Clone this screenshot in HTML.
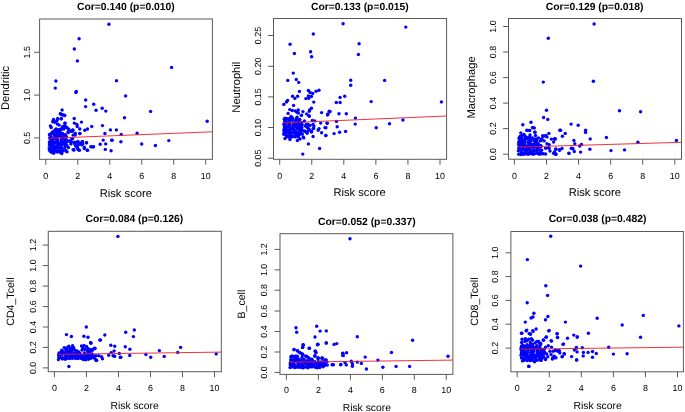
<!DOCTYPE html>
<html><head><meta charset="utf-8"><style>html,body{margin:0;padding:0;background:#fff;}svg{display:block;will-change:transform;} text{text-rendering:geometricPrecision;}</style></head>
<body><svg width="685" height="412" viewBox="0 0 685 412">
<rect width="685" height="412" fill="#fff"/>
<g><g fill="#0000ff"><circle cx="108.9" cy="24.2" r="1.7"/><circle cx="79.1" cy="38.7" r="1.7"/><circle cx="74.3" cy="49.0" r="1.7"/><circle cx="77.4" cy="60.9" r="1.7"/><circle cx="55.9" cy="81.0" r="1.7"/><circle cx="116.5" cy="80.7" r="1.7"/><circle cx="55.3" cy="88.1" r="1.7"/><circle cx="171.6" cy="67.4" r="1.7"/><circle cx="76.3" cy="91.4" r="1.7"/><circle cx="75.9" cy="92.5" r="1.7"/><circle cx="85.7" cy="100" r="1.7"/><circle cx="85.6" cy="106.6" r="1.7"/><circle cx="62.1" cy="110" r="1.7"/><circle cx="60.4" cy="113.9" r="1.7"/><circle cx="62.5" cy="114.7" r="1.7"/><circle cx="64.6" cy="115.6" r="1.7"/><circle cx="53.6" cy="119.4" r="1.7"/><circle cx="57.6" cy="119" r="1.7"/><circle cx="61.2" cy="118.8" r="1.7"/><circle cx="74.2" cy="118.5" r="1.7"/><circle cx="125.6" cy="95.9" r="1.7"/><circle cx="93.7" cy="104.3" r="1.7"/><circle cx="96.1" cy="110.3" r="1.7"/><circle cx="102.2" cy="108.2" r="1.7"/><circle cx="105.8" cy="111.1" r="1.7"/><circle cx="124.5" cy="117.7" r="1.7"/><circle cx="150.6" cy="111.4" r="1.7"/><circle cx="81.5" cy="122.1" r="1.7"/><circle cx="65" cy="123.3" r="1.7"/><circle cx="74.3" cy="123.1" r="1.7"/><circle cx="76.9" cy="124.4" r="1.7"/><circle cx="77.3" cy="126.5" r="1.7"/><circle cx="91.7" cy="126.5" r="1.7"/><circle cx="102.5" cy="125.6" r="1.7"/><circle cx="110.4" cy="129.9" r="1.7"/><circle cx="87.5" cy="129" r="1.7"/><circle cx="84.8" cy="130.3" r="1.7"/><circle cx="79.8" cy="129" r="1.7"/><circle cx="79.8" cy="133.5" r="1.7"/><circle cx="75.2" cy="133.3" r="1.7"/><circle cx="75.2" cy="135" r="1.7"/><circle cx="73" cy="129.9" r="1.7"/><circle cx="72.2" cy="131.2" r="1.7"/><circle cx="68.4" cy="129" r="1.7"/><circle cx="68" cy="132" r="1.7"/><circle cx="65.4" cy="134.6" r="1.7"/><circle cx="63.7" cy="129" r="1.7"/><circle cx="62.8" cy="126.5" r="1.7"/><circle cx="65.4" cy="126.5" r="1.7"/><circle cx="104.9" cy="133.5" r="1.7"/><circle cx="103.2" cy="140.1" r="1.7"/><circle cx="111.7" cy="140.2" r="1.7"/><circle cx="100.2" cy="144.3" r="1.7"/><circle cx="105.7" cy="143.9" r="1.7"/><circle cx="86.6" cy="142.8" r="1.7"/><circle cx="91.3" cy="146.9" r="1.7"/><circle cx="93.4" cy="146.9" r="1.7"/><circle cx="87.5" cy="150.3" r="1.7"/><circle cx="105.3" cy="149.4" r="1.7"/><circle cx="111.1" cy="150.7" r="1.7"/><circle cx="73.9" cy="149.8" r="1.7"/><circle cx="72.2" cy="138.8" r="1.7"/><circle cx="116.4" cy="129.9" r="1.7"/><circle cx="121.2" cy="134.4" r="1.7"/><circle cx="137.1" cy="133.3" r="1.7"/><circle cx="112.2" cy="140.3" r="1.7"/><circle cx="120.9" cy="141.8" r="1.7"/><circle cx="141.7" cy="144" r="1.7"/><circle cx="155.4" cy="145.5" r="1.7"/><circle cx="168.8" cy="140.6" r="1.7"/><circle cx="207.2" cy="121.3" r="1.7"/><circle cx="80" cy="133.6" r="1.7"/><circle cx="72.1" cy="138.8" r="1.7"/><circle cx="69.4" cy="141.2" r="1.7"/><circle cx="70.9" cy="143.9" r="1.7"/><circle cx="68.5" cy="147.6" r="1.7"/><circle cx="74.6" cy="142.1" r="1.7"/><circle cx="75.2" cy="144.8" r="1.7"/><circle cx="77.9" cy="141.5" r="1.7"/><circle cx="78.2" cy="143.9" r="1.7"/><circle cx="82.4" cy="141.8" r="1.7"/><circle cx="81.5" cy="144.8" r="1.7"/><circle cx="86.4" cy="142.7" r="1.7"/><circle cx="84.3" cy="147.3" r="1.7"/><circle cx="84.3" cy="148.5" r="1.7"/><circle cx="77.6" cy="148.2" r="1.7"/><circle cx="79.4" cy="150.3" r="1.7"/><circle cx="78.2" cy="149.7" r="1.7"/><circle cx="73.8" cy="150.1" r="1.7"/><circle cx="87.3" cy="150.3" r="1.7"/><circle cx="90.9" cy="146.6" r="1.7"/><circle cx="93.4" cy="146.6" r="1.7"/><circle cx="67" cy="151.8" r="1.7"/><circle cx="61.8" cy="153.6" r="1.7"/><circle cx="60.4" cy="113.8" r="1.7"/><circle cx="62.2" cy="114.7" r="1.7"/><circle cx="64.6" cy="115.3" r="1.7"/><circle cx="61.3" cy="118.7" r="1.7"/><circle cx="57.7" cy="118.7" r="1.7"/><circle cx="53.4" cy="120.2" r="1.7"/><circle cx="52.8" cy="121.7" r="1.7"/><circle cx="54.9" cy="122.3" r="1.7"/><circle cx="56.8" cy="121.1" r="1.7"/><circle cx="57.4" cy="124.1" r="1.7"/><circle cx="59.2" cy="125.1" r="1.7"/><circle cx="64.9" cy="123.2" r="1.7"/><circle cx="50.4" cy="126" r="1.7"/><circle cx="51.3" cy="127.5" r="1.7"/><circle cx="56.1" cy="129" r="1.7"/><circle cx="64.6" cy="126.6" r="1.7"/><circle cx="67.1" cy="127.8" r="1.7"/><circle cx="68.9" cy="129.6" r="1.7"/><circle cx="61.6" cy="128.4" r="1.7"/><circle cx="64" cy="126.9" r="1.7"/><circle cx="65.9" cy="127.2" r="1.7"/><circle cx="54.9" cy="130.2" r="1.7"/><circle cx="58" cy="129.6" r="1.7"/><circle cx="59.8" cy="129.6" r="1.7"/><circle cx="49.5" cy="134.5" r="1.7"/><circle cx="52.5" cy="132" r="1.7"/><circle cx="54.3" cy="131.4" r="1.7"/><circle cx="68.3" cy="132.6" r="1.7"/><circle cx="70.7" cy="131.4" r="1.7"/><circle cx="72.5" cy="130.2" r="1.7"/><circle cx="73.1" cy="135.1" r="1.7"/><circle cx="70.7" cy="141.1" r="1.7"/><circle cx="72.5" cy="138.6" r="1.7"/><circle cx="73.1" cy="149.6" r="1.7"/><circle cx="53.7" cy="153.3" r="1.7"/><circle cx="61.6" cy="152.4" r="1.7"/><circle cx="66" cy="151" r="1.7"/><circle cx="50.5" cy="151.5" r="1.7"/><circle cx="69.6" cy="140.9" r="1.7"/><circle cx="71.3" cy="142.2" r="1.7"/><circle cx="74.7" cy="143.5" r="1.7"/><circle cx="77.7" cy="142.2" r="1.7"/><circle cx="80.3" cy="143" r="1.7"/><circle cx="82.4" cy="141.8" r="1.7"/><circle cx="82.8" cy="143.9" r="1.7"/><circle cx="78.1" cy="145.2" r="1.7"/><circle cx="76" cy="146.4" r="1.7"/></g><g fill="#0000ff"><circle cx="53.1" cy="132.8" r="1.7"/><circle cx="56.8" cy="132.5" r="1.7"/><circle cx="57.8" cy="132.6" r="1.7"/><circle cx="59.7" cy="132.3" r="1.7"/><circle cx="51.4" cy="134.1" r="1.7"/><circle cx="54.4" cy="135.0" r="1.7"/><circle cx="56.3" cy="134.4" r="1.7"/><circle cx="59.1" cy="135.5" r="1.7"/><circle cx="59.9" cy="134.6" r="1.7"/><circle cx="63.1" cy="135.2" r="1.7"/><circle cx="50.0" cy="137.4" r="1.7"/><circle cx="51.4" cy="137.2" r="1.7"/><circle cx="54.5" cy="137.7" r="1.7"/><circle cx="56.1" cy="137.2" r="1.7"/><circle cx="57.6" cy="136.7" r="1.7"/><circle cx="61.0" cy="137.0" r="1.7"/><circle cx="62.2" cy="137.2" r="1.7"/><circle cx="65.2" cy="137.4" r="1.7"/><circle cx="51.7" cy="139.7" r="1.7"/><circle cx="53.9" cy="139.1" r="1.7"/><circle cx="56.1" cy="138.5" r="1.7"/><circle cx="57.6" cy="139.6" r="1.7"/><circle cx="61.3" cy="139.4" r="1.7"/><circle cx="62.5" cy="138.8" r="1.7"/><circle cx="64.9" cy="140.1" r="1.7"/><circle cx="49.9" cy="141.6" r="1.7"/><circle cx="52.3" cy="141.1" r="1.7"/><circle cx="53.9" cy="142.2" r="1.7"/><circle cx="56.2" cy="141.4" r="1.7"/><circle cx="57.9" cy="141.6" r="1.7"/><circle cx="61.2" cy="140.7" r="1.7"/><circle cx="63.2" cy="142.0" r="1.7"/><circle cx="65.5" cy="141.9" r="1.7"/><circle cx="50.0" cy="143.7" r="1.7"/><circle cx="51.8" cy="143.6" r="1.7"/><circle cx="53.2" cy="144.3" r="1.7"/><circle cx="56.2" cy="143.2" r="1.7"/><circle cx="58.3" cy="143.7" r="1.7"/><circle cx="60.3" cy="143.5" r="1.7"/><circle cx="62.8" cy="143.9" r="1.7"/><circle cx="65.1" cy="143.6" r="1.7"/><circle cx="51.2" cy="146.0" r="1.7"/><circle cx="54.5" cy="146.4" r="1.7"/><circle cx="56.6" cy="146.4" r="1.7"/><circle cx="57.9" cy="146.4" r="1.7"/><circle cx="60.8" cy="145.2" r="1.7"/><circle cx="61.9" cy="145.1" r="1.7"/><circle cx="65.3" cy="145.5" r="1.7"/><circle cx="51.5" cy="147.4" r="1.7"/><circle cx="53.4" cy="148.1" r="1.7"/><circle cx="55.6" cy="147.7" r="1.7"/><circle cx="58.6" cy="148.0" r="1.7"/><circle cx="60.2" cy="148.1" r="1.7"/><circle cx="61.9" cy="147.9" r="1.7"/><circle cx="64.8" cy="147.6" r="1.7"/><circle cx="51.7" cy="149.8" r="1.7"/><circle cx="54.1" cy="150.8" r="1.7"/><circle cx="55.3" cy="149.5" r="1.7"/><circle cx="57.7" cy="150.7" r="1.7"/><circle cx="60.0" cy="150.6" r="1.7"/><circle cx="63.0" cy="150.4" r="1.7"/><circle cx="49.8" cy="135.0" r="1.7"/><circle cx="51.0" cy="133.6" r="1.7"/><circle cx="52.9" cy="132.1" r="1.7"/><circle cx="56.8" cy="131.1" r="1.7"/><circle cx="60.6" cy="130.3" r="1.7"/><circle cx="62.5" cy="133.4" r="1.7"/><circle cx="64.8" cy="134.9" r="1.7"/><circle cx="66.3" cy="136.4" r="1.7"/><circle cx="66.7" cy="139.9" r="1.7"/><circle cx="66.3" cy="142.5" r="1.7"/><circle cx="66.9" cy="145.5" r="1.7"/><circle cx="65.8" cy="150.5" r="1.7"/><circle cx="62.1" cy="151.2" r="1.7"/><circle cx="59.9" cy="152.2" r="1.7"/><circle cx="57.2" cy="152.0" r="1.7"/><circle cx="54.4" cy="151.8" r="1.7"/><circle cx="51.7" cy="152.2" r="1.7"/><circle cx="49.5" cy="150.2" r="1.7"/><circle cx="49.2" cy="147.9" r="1.7"/><circle cx="49.4" cy="145.0" r="1.7"/><circle cx="49.4" cy="142.4" r="1.7"/><circle cx="50.0" cy="138.5" r="1.7"/></g><line x1="48.9" y1="138.3" x2="212.4" y2="131.8" stroke="#ee1c24" stroke-width="1" stroke-opacity="0.9"/><rect x="39.6" y="19.0" width="172.80" height="140.30" fill="none" stroke="#5a5a5a" stroke-width="1"/><text x="45.80" y="178.8" font-family="Liberation Sans" font-size="8.9" text-anchor="middle">0</text><text x="77.78" y="178.8" font-family="Liberation Sans" font-size="8.9" text-anchor="middle">2</text><text x="109.76" y="178.8" font-family="Liberation Sans" font-size="8.9" text-anchor="middle">4</text><text x="141.74" y="178.8" font-family="Liberation Sans" font-size="8.9" text-anchor="middle">6</text><text x="173.72" y="178.8" font-family="Liberation Sans" font-size="8.9" text-anchor="middle">8</text><text x="205.70" y="178.8" font-family="Liberation Sans" font-size="8.9" text-anchor="middle">10</text><text transform="translate(30.4,52.3) rotate(-90)" font-family="Liberation Sans" font-size="8.9" text-anchor="middle">1.5</text><text transform="translate(30.4,95.1) rotate(-90)" font-family="Liberation Sans" font-size="8.9" text-anchor="middle">1.0</text><text transform="translate(30.4,137.9) rotate(-90)" font-family="Liberation Sans" font-size="8.9" text-anchor="middle">0.5</text><path d="M45.80,159.3v5.4 M77.78,159.3v5.4 M109.76,159.3v5.4 M141.74,159.3v5.4 M173.72,159.3v5.4 M205.70,159.3v5.4 M39.6,52.3h-5.4 M39.6,95.1h-5.4 M39.6,137.9h-5.4" stroke="#5a5a5a" stroke-width="1" fill="none"/><text x="125.9" y="9.8" font-family="Liberation Sans" font-size="10.35" font-weight="bold" text-anchor="middle">Cor=0.140 (p=0.010)</text><text x="125.8" y="196.7" font-family="Liberation Sans" font-size="11.2" text-anchor="middle">Risk score</text><text transform="translate(9.3,88.0) rotate(-90)" font-family="Liberation Sans" font-size="11.2" text-anchor="middle">Dendritic</text></g>
<g><g fill="#0000ff"><circle cx="343.1" cy="23.7" r="1.7"/><circle cx="313.3" cy="34" r="1.7"/><circle cx="290.1" cy="44.2" r="1.7"/><circle cx="294.4" cy="53.5" r="1.7"/><circle cx="310.6" cy="51.8" r="1.7"/><circle cx="311.6" cy="56.8" r="1.7"/><circle cx="359.1" cy="43.8" r="1.7"/><circle cx="358.4" cy="54.5" r="1.7"/><circle cx="293.3" cy="73.1" r="1.7"/><circle cx="287.8" cy="80.4" r="1.7"/><circle cx="296.3" cy="79.5" r="1.7"/><circle cx="298.7" cy="82.4" r="1.7"/><circle cx="350.7" cy="80.2" r="1.7"/><circle cx="350.7" cy="85.2" r="1.7"/><circle cx="405.8" cy="27.1" r="1.7"/><circle cx="384.6" cy="80.4" r="1.7"/><circle cx="299.4" cy="91.4" r="1.7"/><circle cx="308.4" cy="90.5" r="1.7"/><circle cx="310.1" cy="92.5" r="1.7"/><circle cx="312.7" cy="93.5" r="1.7"/><circle cx="316.1" cy="91.2" r="1.7"/><circle cx="319" cy="90.3" r="1.7"/><circle cx="292.6" cy="96.3" r="1.7"/><circle cx="294.9" cy="98.4" r="1.7"/><circle cx="297.6" cy="96.3" r="1.7"/><circle cx="308.4" cy="96" r="1.7"/><circle cx="311.4" cy="96.5" r="1.7"/><circle cx="305.9" cy="98.6" r="1.7"/><circle cx="308.7" cy="98.2" r="1.7"/><circle cx="313.8" cy="102.1" r="1.7"/><circle cx="287.6" cy="100.5" r="1.7"/><circle cx="286.4" cy="102" r="1.7"/><circle cx="283.8" cy="104.4" r="1.7"/><circle cx="293.6" cy="105.4" r="1.7"/><circle cx="311.4" cy="108.3" r="1.7"/><circle cx="309.7" cy="110" r="1.7"/><circle cx="309.3" cy="111.3" r="1.7"/><circle cx="321.6" cy="112.6" r="1.7"/><circle cx="329.2" cy="111.3" r="1.7"/><circle cx="328" cy="114.1" r="1.7"/><circle cx="302.9" cy="111.6" r="1.7"/><circle cx="306.7" cy="113.9" r="1.7"/><circle cx="309.3" cy="116.2" r="1.7"/><circle cx="301.6" cy="115.1" r="1.7"/><circle cx="288.1" cy="113.4" r="1.7"/><circle cx="289.8" cy="109.6" r="1.7"/><circle cx="292.3" cy="110.5" r="1.7"/><circle cx="295.3" cy="110.9" r="1.7"/><circle cx="298.3" cy="110" r="1.7"/><circle cx="297" cy="112.2" r="1.7"/><circle cx="298.3" cy="113" r="1.7"/><circle cx="285.1" cy="118.1" r="1.7"/><circle cx="291" cy="116.4" r="1.7"/><circle cx="297" cy="117.3" r="1.7"/><circle cx="308.9" cy="115.8" r="1.7"/><circle cx="301.2" cy="115.4" r="1.7"/><circle cx="327.5" cy="115" r="1.7"/><circle cx="312.3" cy="120.5" r="1.7"/><circle cx="314.8" cy="120.9" r="1.7"/><circle cx="320.7" cy="123.1" r="1.7"/><circle cx="327.1" cy="123.1" r="1.7"/><circle cx="314" cy="126" r="1.7"/><circle cx="313.5" cy="128.6" r="1.7"/><circle cx="308" cy="124.3" r="1.7"/><circle cx="308" cy="127.7" r="1.7"/><circle cx="319" cy="128.6" r="1.7"/><circle cx="318.2" cy="130.3" r="1.7"/><circle cx="325" cy="127.6" r="1.7"/><circle cx="321.6" cy="132.7" r="1.7"/><circle cx="325.8" cy="135.4" r="1.7"/><circle cx="308" cy="131.1" r="1.7"/><circle cx="311.4" cy="132" r="1.7"/><circle cx="313.1" cy="136.5" r="1.7"/><circle cx="303.8" cy="137.9" r="1.7"/><circle cx="297.4" cy="140.5" r="1.7"/><circle cx="308.4" cy="143.9" r="1.7"/><circle cx="319.6" cy="148.5" r="1.7"/><circle cx="302.8" cy="154.1" r="1.7"/><circle cx="340.1" cy="97.4" r="1.7"/><circle cx="344.7" cy="96.3" r="1.7"/><circle cx="336.3" cy="102.5" r="1.7"/><circle cx="340.1" cy="102.5" r="1.7"/><circle cx="371.2" cy="101.6" r="1.7"/><circle cx="441.4" cy="101.9" r="1.7"/><circle cx="330.1" cy="111.6" r="1.7"/><circle cx="327.7" cy="114.1" r="1.7"/><circle cx="339" cy="113.8" r="1.7"/><circle cx="346.3" cy="113.8" r="1.7"/><circle cx="355.4" cy="118.1" r="1.7"/><circle cx="327.2" cy="123.2" r="1.7"/><circle cx="336.5" cy="121.4" r="1.7"/><circle cx="337.2" cy="126.7" r="1.7"/><circle cx="355.2" cy="124.1" r="1.7"/><circle cx="325.9" cy="127.8" r="1.7"/><circle cx="334.1" cy="133.6" r="1.7"/><circle cx="339.6" cy="132.3" r="1.7"/><circle cx="345.6" cy="131.4" r="1.7"/><circle cx="325.9" cy="135.6" r="1.7"/><circle cx="376.2" cy="127.8" r="1.7"/><circle cx="389.5" cy="123.8" r="1.7"/><circle cx="402.9" cy="120" r="1.7"/><circle cx="304.5" cy="121" r="1.7"/><circle cx="305.5" cy="126" r="1.7"/><circle cx="304" cy="131" r="1.7"/><circle cx="300" cy="139" r="1.7"/><circle cx="290" cy="139.5" r="1.7"/><circle cx="285" cy="138.5" r="1.7"/><circle cx="306.2" cy="124.4" r="1.7"/><circle cx="307.1" cy="127.3" r="1.7"/><circle cx="309.1" cy="129.3" r="1.7"/><circle cx="311.5" cy="131.2" r="1.7"/><circle cx="310" cy="125.4" r="1.7"/><circle cx="313" cy="124.4" r="1.7"/><circle cx="313.4" cy="128.3" r="1.7"/><circle cx="305.2" cy="131.2" r="1.7"/><circle cx="307.1" cy="133.2" r="1.7"/><circle cx="302.3" cy="134.1" r="1.7"/><circle cx="303.2" cy="137" r="1.7"/><circle cx="301.3" cy="129.3" r="1.7"/></g><g fill="#0000ff"><circle cx="290.8" cy="118.7" r="1.7"/><circle cx="284.6" cy="119.6" r="1.7"/><circle cx="285.4" cy="120.5" r="1.7"/><circle cx="289.1" cy="120.2" r="1.7"/><circle cx="290.1" cy="120.3" r="1.7"/><circle cx="292.0" cy="120.0" r="1.7"/><circle cx="294.9" cy="120.4" r="1.7"/><circle cx="296.8" cy="120.0" r="1.7"/><circle cx="299.0" cy="120.3" r="1.7"/><circle cx="284.5" cy="122.7" r="1.7"/><circle cx="286.4" cy="122.1" r="1.7"/><circle cx="289.2" cy="123.2" r="1.7"/><circle cx="290.0" cy="122.3" r="1.7"/><circle cx="293.2" cy="122.9" r="1.7"/><circle cx="295.7" cy="122.5" r="1.7"/><circle cx="297.7" cy="122.9" r="1.7"/><circle cx="299.1" cy="122.7" r="1.7"/><circle cx="285.5" cy="124.4" r="1.7"/><circle cx="288.9" cy="124.7" r="1.7"/><circle cx="290.1" cy="124.9" r="1.7"/><circle cx="293.1" cy="125.1" r="1.7"/><circle cx="294.8" cy="124.7" r="1.7"/><circle cx="297.2" cy="125.2" r="1.7"/><circle cx="299.4" cy="124.6" r="1.7"/><circle cx="301.6" cy="124.0" r="1.7"/><circle cx="287.0" cy="127.1" r="1.7"/><circle cx="288.2" cy="126.5" r="1.7"/><circle cx="290.6" cy="127.8" r="1.7"/><circle cx="293.2" cy="127.1" r="1.7"/><circle cx="295.6" cy="126.6" r="1.7"/><circle cx="297.2" cy="127.7" r="1.7"/><circle cx="299.5" cy="126.9" r="1.7"/><circle cx="301.2" cy="127.1" r="1.7"/><circle cx="284.7" cy="128.4" r="1.7"/><circle cx="286.7" cy="129.7" r="1.7"/><circle cx="289.0" cy="129.6" r="1.7"/><circle cx="291.1" cy="129.2" r="1.7"/><circle cx="292.9" cy="129.1" r="1.7"/><circle cx="294.3" cy="129.8" r="1.7"/><circle cx="297.3" cy="128.7" r="1.7"/><circle cx="299.4" cy="129.2" r="1.7"/><circle cx="301.4" cy="129.0" r="1.7"/><circle cx="286.4" cy="131.3" r="1.7"/><circle cx="287.6" cy="131.0" r="1.7"/><circle cx="290.1" cy="131.5" r="1.7"/><circle cx="293.4" cy="131.9" r="1.7"/><circle cx="295.5" cy="131.9" r="1.7"/><circle cx="296.8" cy="131.9" r="1.7"/><circle cx="299.7" cy="130.7" r="1.7"/><circle cx="300.8" cy="130.6" r="1.7"/><circle cx="284.4" cy="133.2" r="1.7"/><circle cx="285.6" cy="133.8" r="1.7"/><circle cx="288.2" cy="132.9" r="1.7"/><circle cx="290.1" cy="133.6" r="1.7"/><circle cx="292.3" cy="133.2" r="1.7"/><circle cx="295.3" cy="133.5" r="1.7"/><circle cx="296.9" cy="133.6" r="1.7"/><circle cx="298.6" cy="133.4" r="1.7"/><circle cx="286.2" cy="135.3" r="1.7"/><circle cx="288.6" cy="136.3" r="1.7"/><circle cx="289.8" cy="135.0" r="1.7"/><circle cx="292.2" cy="136.2" r="1.7"/><circle cx="294.5" cy="136.1" r="1.7"/><circle cx="297.5" cy="135.9" r="1.7"/><circle cx="284.2" cy="119.1" r="1.7"/><circle cx="287.1" cy="118.7" r="1.7"/><circle cx="289.8" cy="118.3" r="1.7"/><circle cx="292.6" cy="118.0" r="1.7"/><circle cx="296.5" cy="118.6" r="1.7"/><circle cx="299.8" cy="119.4" r="1.7"/><circle cx="301.8" cy="122.4" r="1.7"/><circle cx="302.2" cy="124.9" r="1.7"/><circle cx="301.8" cy="127.5" r="1.7"/><circle cx="301.9" cy="130.0" r="1.7"/><circle cx="301.3" cy="133.5" r="1.7"/><circle cx="299.6" cy="134.4" r="1.7"/><circle cx="298.4" cy="137.0" r="1.7"/><circle cx="295.2" cy="136.9" r="1.7"/><circle cx="291.9" cy="137.0" r="1.7"/><circle cx="289.2" cy="137.3" r="1.7"/><circle cx="286.9" cy="136.7" r="1.7"/><circle cx="283.9" cy="134.2" r="1.7"/><circle cx="284.0" cy="131.7" r="1.7"/><circle cx="283.9" cy="129.7" r="1.7"/><circle cx="284.4" cy="126.5" r="1.7"/><circle cx="283.9" cy="124.2" r="1.7"/><circle cx="284.8" cy="121.9" r="1.7"/></g><line x1="283.3" y1="122.9" x2="446.6" y2="116.0" stroke="#ee1c24" stroke-width="1" stroke-opacity="0.9"/><rect x="273.5" y="18.5" width="173.10" height="140.80" fill="none" stroke="#5a5a5a" stroke-width="1"/><text x="279.70" y="178.5" font-family="Liberation Sans" font-size="8.9" text-anchor="middle">0</text><text x="311.76" y="178.5" font-family="Liberation Sans" font-size="8.9" text-anchor="middle">2</text><text x="343.82" y="178.5" font-family="Liberation Sans" font-size="8.9" text-anchor="middle">4</text><text x="375.88" y="178.5" font-family="Liberation Sans" font-size="8.9" text-anchor="middle">6</text><text x="407.94" y="178.5" font-family="Liberation Sans" font-size="8.9" text-anchor="middle">8</text><text x="440.00" y="178.5" font-family="Liberation Sans" font-size="8.9" text-anchor="middle">10</text><text transform="translate(260.8,35.5) rotate(-90)" font-family="Liberation Sans" font-size="8.9" text-anchor="middle">0.25</text><text transform="translate(260.8,66.3) rotate(-90)" font-family="Liberation Sans" font-size="8.9" text-anchor="middle">0.20</text><text transform="translate(260.8,96.9) rotate(-90)" font-family="Liberation Sans" font-size="8.9" text-anchor="middle">0.15</text><text transform="translate(260.8,127.5) rotate(-90)" font-family="Liberation Sans" font-size="8.9" text-anchor="middle">0.10</text><text transform="translate(260.8,158.2) rotate(-90)" font-family="Liberation Sans" font-size="8.9" text-anchor="middle">0.05</text><path d="M279.70,159.3v5.4 M311.76,159.3v5.4 M343.82,159.3v5.4 M375.88,159.3v5.4 M407.94,159.3v5.4 M440.00,159.3v5.4 M273.5,35.5h-5.4 M273.5,66.3h-5.4 M273.5,96.9h-5.4 M273.5,127.5h-5.4 M273.5,158.2h-5.4" stroke="#5a5a5a" stroke-width="1" fill="none"/><text x="359.9" y="9.7" font-family="Liberation Sans" font-size="10.35" font-weight="bold" text-anchor="middle">Cor=0.133 (p=0.015)</text><text x="359.5" y="195.7" font-family="Liberation Sans" font-size="11.2" text-anchor="middle">Risk score</text><text transform="translate(239.9,87.2) rotate(-90)" font-family="Liberation Sans" font-size="11.2" text-anchor="middle">Neutrophil</text></g>
<g><g fill="#0000ff"><circle cx="594.1" cy="24" r="1.7"/><circle cx="548.3" cy="38.2" r="1.7"/><circle cx="543.3" cy="82.1" r="1.7"/><circle cx="593.4" cy="81.2" r="1.7"/><circle cx="546.5" cy="110.2" r="1.7"/><circle cx="543.6" cy="117.5" r="1.7"/><circle cx="547.8" cy="119.4" r="1.7"/><circle cx="531" cy="122.3" r="1.7"/><circle cx="522.8" cy="124.8" r="1.7"/><circle cx="532.5" cy="127.6" r="1.7"/><circle cx="534.3" cy="127.9" r="1.7"/><circle cx="526.7" cy="130.3" r="1.7"/><circle cx="529.6" cy="130.5" r="1.7"/><circle cx="535" cy="132.3" r="1.7"/><circle cx="520.8" cy="133" r="1.7"/><circle cx="548.9" cy="133.4" r="1.7"/><circle cx="559.8" cy="130.3" r="1.7"/><circle cx="522.3" cy="135.5" r="1.7"/><circle cx="527.7" cy="130.4" r="1.7"/><circle cx="529.6" cy="130.4" r="1.7"/><circle cx="542.7" cy="135.8" r="1.7"/><circle cx="545.6" cy="135.8" r="1.7"/><circle cx="547" cy="136.9" r="1.7"/><circle cx="551.4" cy="139.1" r="1.7"/><circle cx="554.7" cy="138.7" r="1.7"/><circle cx="553.6" cy="142" r="1.7"/><circle cx="542" cy="139.5" r="1.7"/><circle cx="544.1" cy="140.9" r="1.7"/><circle cx="540.5" cy="140.9" r="1.7"/><circle cx="547" cy="143.8" r="1.7"/><circle cx="549.2" cy="144.6" r="1.7"/><circle cx="545.6" cy="148.2" r="1.7"/><circle cx="548.5" cy="147.8" r="1.7"/><circle cx="555.8" cy="148.9" r="1.7"/><circle cx="559.4" cy="149.7" r="1.7"/><circle cx="550" cy="151.1" r="1.7"/><circle cx="553.6" cy="153.3" r="1.7"/><circle cx="555.8" cy="154" r="1.7"/><circle cx="543.4" cy="153.7" r="1.7"/><circle cx="545.6" cy="154" r="1.7"/><circle cx="619.5" cy="110.8" r="1.7"/><circle cx="640.6" cy="111.7" r="1.7"/><circle cx="571.1" cy="124.1" r="1.7"/><circle cx="578.2" cy="125.2" r="1.7"/><circle cx="560.6" cy="130.2" r="1.7"/><circle cx="565.2" cy="133.4" r="1.7"/><circle cx="562.4" cy="136.3" r="1.7"/><circle cx="585.6" cy="130.2" r="1.7"/><circle cx="585.6" cy="132.4" r="1.7"/><circle cx="555.4" cy="138.9" r="1.7"/><circle cx="573.9" cy="140.4" r="1.7"/><circle cx="574.8" cy="143.8" r="1.7"/><circle cx="590.2" cy="138.9" r="1.7"/><circle cx="606.4" cy="137.5" r="1.7"/><circle cx="637.9" cy="142.3" r="1.7"/><circle cx="676.4" cy="140.4" r="1.7"/><circle cx="581.5" cy="144.5" r="1.7"/><circle cx="579.7" cy="146" r="1.7"/><circle cx="555.9" cy="149.3" r="1.7"/><circle cx="559.6" cy="150.2" r="1.7"/><circle cx="562" cy="148.4" r="1.7"/><circle cx="571.3" cy="148.4" r="1.7"/><circle cx="573" cy="148.8" r="1.7"/><circle cx="574.3" cy="151.5" r="1.7"/><circle cx="580.6" cy="152.1" r="1.7"/><circle cx="568.9" cy="153.4" r="1.7"/><circle cx="555.9" cy="154.3" r="1.7"/><circle cx="589.9" cy="149.3" r="1.7"/><circle cx="611" cy="150.6" r="1.7"/><circle cx="624.5" cy="149.9" r="1.7"/><circle cx="533" cy="127.8" r="1.7"/><circle cx="534.7" cy="132.1" r="1.7"/><circle cx="545.9" cy="135.5" r="1.7"/><circle cx="543.3" cy="136.4" r="1.7"/><circle cx="541.6" cy="139" r="1.7"/><circle cx="554.5" cy="139" r="1.7"/><circle cx="549.3" cy="148.4" r="1.7"/><circle cx="554.5" cy="151.9" r="1.7"/><circle cx="555.4" cy="154.1" r="1.7"/><circle cx="569" cy="153.1" r="1.7"/><circle cx="571.7" cy="148.1" r="1.7"/><circle cx="520" cy="136.5" r="1.7"/><circle cx="524" cy="134.5" r="1.7"/><circle cx="530" cy="135" r="1.7"/><circle cx="535.5" cy="135.5" r="1.7"/><circle cx="538.5" cy="138" r="1.7"/></g><g fill="#0000ff"><circle cx="525.5" cy="137.5" r="1.7"/><circle cx="519.4" cy="139.0" r="1.7"/><circle cx="520.4" cy="139.1" r="1.7"/><circle cx="522.3" cy="138.8" r="1.7"/><circle cx="525.2" cy="139.2" r="1.7"/><circle cx="527.1" cy="138.8" r="1.7"/><circle cx="529.3" cy="139.1" r="1.7"/><circle cx="531.6" cy="138.4" r="1.7"/><circle cx="534.6" cy="139.3" r="1.7"/><circle cx="519.1" cy="141.7" r="1.7"/><circle cx="521.6" cy="141.3" r="1.7"/><circle cx="523.6" cy="141.7" r="1.7"/><circle cx="525.0" cy="141.5" r="1.7"/><circle cx="528.1" cy="142.0" r="1.7"/><circle cx="529.7" cy="141.5" r="1.7"/><circle cx="531.2" cy="141.0" r="1.7"/><circle cx="534.6" cy="141.3" r="1.7"/><circle cx="535.8" cy="141.5" r="1.7"/><circle cx="518.7" cy="144.0" r="1.7"/><circle cx="520.9" cy="143.4" r="1.7"/><circle cx="523.1" cy="142.8" r="1.7"/><circle cx="524.6" cy="143.9" r="1.7"/><circle cx="528.3" cy="143.7" r="1.7"/><circle cx="529.5" cy="143.1" r="1.7"/><circle cx="531.9" cy="144.4" r="1.7"/><circle cx="534.5" cy="143.7" r="1.7"/><circle cx="536.9" cy="143.2" r="1.7"/><circle cx="538.5" cy="144.3" r="1.7"/><circle cx="521.6" cy="145.0" r="1.7"/><circle cx="523.6" cy="146.3" r="1.7"/><circle cx="525.9" cy="146.2" r="1.7"/><circle cx="528.0" cy="145.8" r="1.7"/><circle cx="529.8" cy="145.7" r="1.7"/><circle cx="531.2" cy="146.4" r="1.7"/><circle cx="534.2" cy="145.3" r="1.7"/><circle cx="536.3" cy="145.8" r="1.7"/><circle cx="538.3" cy="145.6" r="1.7"/><circle cx="540.8" cy="146.0" r="1.7"/><circle cx="518.9" cy="147.9" r="1.7"/><circle cx="520.1" cy="147.6" r="1.7"/><circle cx="522.6" cy="148.1" r="1.7"/><circle cx="525.9" cy="148.5" r="1.7"/><circle cx="528.0" cy="148.5" r="1.7"/><circle cx="529.3" cy="148.5" r="1.7"/><circle cx="532.2" cy="147.3" r="1.7"/><circle cx="533.3" cy="147.2" r="1.7"/><circle cx="536.7" cy="147.6" r="1.7"/><circle cx="537.9" cy="148.2" r="1.7"/><circle cx="540.5" cy="147.3" r="1.7"/><circle cx="520.4" cy="149.8" r="1.7"/><circle cx="523.4" cy="150.1" r="1.7"/><circle cx="525.0" cy="150.2" r="1.7"/><circle cx="526.7" cy="150.0" r="1.7"/><circle cx="529.6" cy="149.7" r="1.7"/><circle cx="531.3" cy="150.8" r="1.7"/><circle cx="534.1" cy="149.7" r="1.7"/><circle cx="536.5" cy="150.7" r="1.7"/><circle cx="537.7" cy="149.4" r="1.7"/><circle cx="540.1" cy="150.6" r="1.7"/><circle cx="521.2" cy="152.5" r="1.7"/><circle cx="522.7" cy="153.2" r="1.7"/><circle cx="525.8" cy="152.4" r="1.7"/><circle cx="527.1" cy="152.6" r="1.7"/><circle cx="529.5" cy="152.5" r="1.7"/><circle cx="531.6" cy="152.6" r="1.7"/><circle cx="533.4" cy="152.1" r="1.7"/><circle cx="537.0" cy="153.0" r="1.7"/><circle cx="538.2" cy="153.0" r="1.7"/><circle cx="540.4" cy="153.1" r="1.7"/><circle cx="519.0" cy="137.9" r="1.7"/><circle cx="521.7" cy="137.0" r="1.7"/><circle cx="525.4" cy="136.5" r="1.7"/><circle cx="527.7" cy="137.6" r="1.7"/><circle cx="529.7" cy="137.0" r="1.7"/><circle cx="532.4" cy="138.0" r="1.7"/><circle cx="536.2" cy="139.0" r="1.7"/><circle cx="536.9" cy="140.8" r="1.7"/><circle cx="537.7" cy="143.2" r="1.7"/><circle cx="540.9" cy="145.7" r="1.7"/><circle cx="541.6" cy="150.2" r="1.7"/><circle cx="541.8" cy="153.8" r="1.7"/><circle cx="539.4" cy="154.2" r="1.7"/><circle cx="537.6" cy="153.4" r="1.7"/><circle cx="534.5" cy="153.7" r="1.7"/><circle cx="532.9" cy="154.2" r="1.7"/><circle cx="529.8" cy="153.7" r="1.7"/><circle cx="528.0" cy="154.3" r="1.7"/><circle cx="526.0" cy="153.8" r="1.7"/><circle cx="523.8" cy="154.2" r="1.7"/><circle cx="521.2" cy="154.5" r="1.7"/><circle cx="518.7" cy="154.2" r="1.7"/><circle cx="518.4" cy="150.7" r="1.7"/><circle cx="519.1" cy="147.7" r="1.7"/><circle cx="519.0" cy="145.1" r="1.7"/><circle cx="519.0" cy="141.9" r="1.7"/></g><line x1="518.3" y1="147.1" x2="681.5" y2="142.3" stroke="#ee1c24" stroke-width="1" stroke-opacity="0.9"/><rect x="508.5" y="18.5" width="173.00" height="140.70" fill="none" stroke="#5a5a5a" stroke-width="1"/><text x="514.40" y="178.5" font-family="Liberation Sans" font-size="8.9" text-anchor="middle">0</text><text x="546.48" y="178.5" font-family="Liberation Sans" font-size="8.9" text-anchor="middle">2</text><text x="578.56" y="178.5" font-family="Liberation Sans" font-size="8.9" text-anchor="middle">4</text><text x="610.64" y="178.5" font-family="Liberation Sans" font-size="8.9" text-anchor="middle">6</text><text x="642.72" y="178.5" font-family="Liberation Sans" font-size="8.9" text-anchor="middle">8</text><text x="674.80" y="178.5" font-family="Liberation Sans" font-size="8.9" text-anchor="middle">10</text><text transform="translate(495.6,26.5) rotate(-90)" font-family="Liberation Sans" font-size="8.9" text-anchor="middle">1.0</text><text transform="translate(495.6,52.0) rotate(-90)" font-family="Liberation Sans" font-size="8.9" text-anchor="middle">0.8</text><text transform="translate(495.6,77.6) rotate(-90)" font-family="Liberation Sans" font-size="8.9" text-anchor="middle">0.6</text><text transform="translate(495.6,103.1) rotate(-90)" font-family="Liberation Sans" font-size="8.9" text-anchor="middle">0.4</text><text transform="translate(495.6,128.6) rotate(-90)" font-family="Liberation Sans" font-size="8.9" text-anchor="middle">0.2</text><text transform="translate(495.6,154.2) rotate(-90)" font-family="Liberation Sans" font-size="8.9" text-anchor="middle">0.0</text><path d="M514.40,159.2v5.4 M546.48,159.2v5.4 M578.56,159.2v5.4 M610.64,159.2v5.4 M642.72,159.2v5.4 M674.80,159.2v5.4 M508.5,26.5h-5.4 M508.5,52.0h-5.4 M508.5,77.6h-5.4 M508.5,103.1h-5.4 M508.5,128.6h-5.4 M508.5,154.2h-5.4" stroke="#5a5a5a" stroke-width="1" fill="none"/><text x="594.6" y="9.7" font-family="Liberation Sans" font-size="10.35" font-weight="bold" text-anchor="middle">Cor=0.129 (p=0.018)</text><text x="594.8" y="195.7" font-family="Liberation Sans" font-size="11.2" text-anchor="middle">Risk score</text><text transform="translate(474.6,87.5) rotate(-90)" font-family="Liberation Sans" font-size="11.2" text-anchor="middle">Macrophage</text></g>
<g><g fill="#0000ff"><circle cx="117.9" cy="236.4" r="1.7"/><circle cx="86.3" cy="327" r="1.7"/><circle cx="66.5" cy="334.6" r="1.7"/><circle cx="71.4" cy="336.5" r="1.7"/><circle cx="83.9" cy="336.2" r="1.7"/><circle cx="88" cy="337.2" r="1.7"/><circle cx="90.5" cy="342.8" r="1.7"/><circle cx="99.8" cy="340.1" r="1.7"/><circle cx="68.9" cy="366.5" r="1.7"/><circle cx="96.5" cy="360.2" r="1.7"/><circle cx="94.9" cy="348.5" r="1.7"/><circle cx="104.8" cy="335" r="1.7"/><circle cx="100.4" cy="340" r="1.7"/><circle cx="125.7" cy="332.3" r="1.7"/><circle cx="134.3" cy="330" r="1.7"/><circle cx="133.4" cy="336.6" r="1.7"/><circle cx="91" cy="343.3" r="1.7"/><circle cx="110.8" cy="345.2" r="1.7"/><circle cx="114.7" cy="346.2" r="1.7"/><circle cx="125.3" cy="346.8" r="1.7"/><circle cx="129.9" cy="349.3" r="1.7"/><circle cx="94.2" cy="348.7" r="1.7"/><circle cx="91.9" cy="351" r="1.7"/><circle cx="111.2" cy="352.6" r="1.7"/><circle cx="114.1" cy="351" r="1.7"/><circle cx="108.7" cy="355.3" r="1.7"/><circle cx="113.1" cy="355.8" r="1.7"/><circle cx="114.7" cy="356.2" r="1.7"/><circle cx="119.3" cy="353.5" r="1.7"/><circle cx="120.8" cy="357.2" r="1.7"/><circle cx="120.3" cy="357.4" r="1.7"/><circle cx="129.7" cy="355.4" r="1.7"/><circle cx="92.9" cy="354.9" r="1.7"/><circle cx="95.8" cy="355.8" r="1.7"/><circle cx="98.7" cy="355.8" r="1.7"/><circle cx="101.6" cy="356.8" r="1.7"/><circle cx="102.5" cy="358.7" r="1.7"/><circle cx="96.4" cy="360.3" r="1.7"/><circle cx="145.9" cy="354.5" r="1.7"/><circle cx="150.7" cy="357.2" r="1.7"/><circle cx="159.4" cy="350.6" r="1.7"/><circle cx="164.2" cy="356.4" r="1.7"/><circle cx="177.7" cy="352.4" r="1.7"/><circle cx="180.6" cy="347.4" r="1.7"/><circle cx="216.2" cy="353.9" r="1.7"/><circle cx="90.7" cy="342.8" r="1.7"/><circle cx="94.8" cy="348.2" r="1.7"/><circle cx="96.1" cy="360.4" r="1.7"/><circle cx="81.5" cy="346" r="1.7"/><circle cx="84" cy="345.5" r="1.7"/><circle cx="86.5" cy="346.5" r="1.7"/><circle cx="83" cy="348" r="1.7"/><circle cx="85" cy="349.5" r="1.7"/><circle cx="88" cy="348.5" r="1.7"/><circle cx="90" cy="349.5" r="1.7"/><circle cx="92.5" cy="349.5" r="1.7"/><circle cx="87.5" cy="351" r="1.7"/><circle cx="82" cy="350" r="1.7"/><circle cx="89.5" cy="351.5" r="1.7"/></g><g fill="#0000ff"><circle cx="65.9" cy="348.8" r="1.7"/><circle cx="66.7" cy="347.9" r="1.7"/><circle cx="69.9" cy="348.5" r="1.7"/><circle cx="72.4" cy="348.1" r="1.7"/><circle cx="62.2" cy="350.7" r="1.7"/><circle cx="65.9" cy="350.5" r="1.7"/><circle cx="67.1" cy="349.9" r="1.7"/><circle cx="69.5" cy="351.2" r="1.7"/><circle cx="72.1" cy="350.5" r="1.7"/><circle cx="74.5" cy="350.0" r="1.7"/><circle cx="76.1" cy="351.1" r="1.7"/><circle cx="60.7" cy="352.6" r="1.7"/><circle cx="62.7" cy="352.4" r="1.7"/><circle cx="65.2" cy="352.8" r="1.7"/><circle cx="67.5" cy="352.5" r="1.7"/><circle cx="68.7" cy="352.2" r="1.7"/><circle cx="71.2" cy="352.7" r="1.7"/><circle cx="74.5" cy="353.1" r="1.7"/><circle cx="76.6" cy="353.1" r="1.7"/><circle cx="77.9" cy="353.1" r="1.7"/><circle cx="58.8" cy="354.7" r="1.7"/><circle cx="60.4" cy="354.8" r="1.7"/><circle cx="62.1" cy="354.6" r="1.7"/><circle cx="65.0" cy="354.3" r="1.7"/><circle cx="66.7" cy="355.4" r="1.7"/><circle cx="69.5" cy="354.3" r="1.7"/><circle cx="71.9" cy="355.3" r="1.7"/><circle cx="73.1" cy="354.0" r="1.7"/><circle cx="75.5" cy="355.2" r="1.7"/><circle cx="77.8" cy="355.1" r="1.7"/><circle cx="80.8" cy="354.9" r="1.7"/><circle cx="82.3" cy="355.6" r="1.7"/><circle cx="85.4" cy="354.8" r="1.7"/><circle cx="86.7" cy="355.0" r="1.7"/><circle cx="89.1" cy="354.9" r="1.7"/><circle cx="91.2" cy="355.0" r="1.7"/><circle cx="59.2" cy="357.6" r="1.7"/><circle cx="60.4" cy="357.6" r="1.7"/><circle cx="62.6" cy="357.7" r="1.7"/><circle cx="65.5" cy="356.9" r="1.7"/><circle cx="66.9" cy="356.2" r="1.7"/><circle cx="70.1" cy="356.3" r="1.7"/><circle cx="72.2" cy="357.7" r="1.7"/><circle cx="74.0" cy="356.5" r="1.7"/><circle cx="76.7" cy="357.8" r="1.7"/><circle cx="78.6" cy="357.0" r="1.7"/><circle cx="80.3" cy="356.8" r="1.7"/><circle cx="82.2" cy="357.3" r="1.7"/><circle cx="84.8" cy="356.5" r="1.7"/><circle cx="86.5" cy="357.3" r="1.7"/><circle cx="89.0" cy="357.0" r="1.7"/><circle cx="91.2" cy="357.6" r="1.7"/><circle cx="62.6" cy="358.7" r="1.7"/><circle cx="83.2" cy="359.0" r="1.7"/><circle cx="84.6" cy="358.9" r="1.7"/><circle cx="59.1" cy="352.9" r="1.7"/><circle cx="61.8" cy="350.3" r="1.7"/><circle cx="64.3" cy="347.6" r="1.7"/><circle cx="68.8" cy="346.2" r="1.7"/><circle cx="72.6" cy="345.7" r="1.7"/><circle cx="73.6" cy="347.8" r="1.7"/><circle cx="76.4" cy="350.6" r="1.7"/><circle cx="78.4" cy="351.6" r="1.7"/><circle cx="79.8" cy="353.1" r="1.7"/><circle cx="84.3" cy="353.0" r="1.7"/><circle cx="88.2" cy="352.6" r="1.7"/><circle cx="91.6" cy="353.9" r="1.7"/><circle cx="93.5" cy="356.2" r="1.7"/><circle cx="94.5" cy="358.2" r="1.7"/><circle cx="90.9" cy="358.3" r="1.7"/><circle cx="88.4" cy="359.2" r="1.7"/><circle cx="85.6" cy="359.7" r="1.7"/><circle cx="83.4" cy="359.5" r="1.7"/><circle cx="81.4" cy="358.5" r="1.7"/><circle cx="78.3" cy="358.5" r="1.7"/><circle cx="75.6" cy="358.4" r="1.7"/><circle cx="73.3" cy="357.8" r="1.7"/><circle cx="72.1" cy="358.2" r="1.7"/><circle cx="69.5" cy="358.5" r="1.7"/><circle cx="67.0" cy="358.2" r="1.7"/><circle cx="65.4" cy="359.3" r="1.7"/><circle cx="62.4" cy="358.8" r="1.7"/><circle cx="58.5" cy="359.6" r="1.7"/><circle cx="59.1" cy="357.3" r="1.7"/><circle cx="58.7" cy="355.2" r="1.7"/></g><line x1="58.3" y1="354.3" x2="221.3" y2="352.1" stroke="#ee1c24" stroke-width="1" stroke-opacity="0.9"/><rect x="48.25" y="231.3" width="173.05" height="140.40" fill="none" stroke="#5a5a5a" stroke-width="1"/><text x="54.40" y="390.9" font-family="Liberation Sans" font-size="8.9" text-anchor="middle">0</text><text x="86.42" y="390.9" font-family="Liberation Sans" font-size="8.9" text-anchor="middle">2</text><text x="118.44" y="390.9" font-family="Liberation Sans" font-size="8.9" text-anchor="middle">4</text><text x="150.46" y="390.9" font-family="Liberation Sans" font-size="8.9" text-anchor="middle">6</text><text x="182.48" y="390.9" font-family="Liberation Sans" font-size="8.9" text-anchor="middle">8</text><text x="214.50" y="390.9" font-family="Liberation Sans" font-size="8.9" text-anchor="middle">10</text><text transform="translate(35.6,245.1) rotate(-90)" font-family="Liberation Sans" font-size="8.9" text-anchor="middle">1.2</text><text transform="translate(35.6,265.6) rotate(-90)" font-family="Liberation Sans" font-size="8.9" text-anchor="middle">1.0</text><text transform="translate(35.6,286.1) rotate(-90)" font-family="Liberation Sans" font-size="8.9" text-anchor="middle">0.8</text><text transform="translate(35.6,306.6) rotate(-90)" font-family="Liberation Sans" font-size="8.9" text-anchor="middle">0.6</text><text transform="translate(35.6,327.0) rotate(-90)" font-family="Liberation Sans" font-size="8.9" text-anchor="middle">0.4</text><text transform="translate(35.6,347.4) rotate(-90)" font-family="Liberation Sans" font-size="8.9" text-anchor="middle">0.2</text><text transform="translate(35.6,367.9) rotate(-90)" font-family="Liberation Sans" font-size="8.9" text-anchor="middle">0.0</text><path d="M54.40,371.7v5.4 M86.42,371.7v5.4 M118.44,371.7v5.4 M150.46,371.7v5.4 M182.48,371.7v5.4 M214.50,371.7v5.4 M48.25,245.1h-5.4 M48.25,265.6h-5.4 M48.25,286.1h-5.4 M48.25,306.6h-5.4 M48.25,327.0h-5.4 M48.25,347.4h-5.4 M48.25,367.9h-5.4" stroke="#5a5a5a" stroke-width="1" fill="none"/><text x="134.3" y="222.4" font-family="Liberation Sans" font-size="10.35" font-weight="bold" text-anchor="middle">Cor=0.084 (p=0.126)</text><text x="134.6" y="409.0" font-family="Liberation Sans" font-size="10.35" text-anchor="middle">Risk score</text><text transform="translate(13.8,301.6) rotate(-90)" font-family="Liberation Sans" font-size="10.6" text-anchor="middle">CD4_Tcell</text></g>
<g><g fill="#0000ff"><circle cx="350" cy="238.8" r="1.7"/><circle cx="296" cy="327.7" r="1.7"/><circle cx="296.7" cy="332.3" r="1.7"/><circle cx="316.7" cy="326.3" r="1.7"/><circle cx="320.1" cy="331.1" r="1.7"/><circle cx="326.3" cy="330.9" r="1.7"/><circle cx="315" cy="337" r="1.7"/><circle cx="326.3" cy="343" r="1.7"/><circle cx="318" cy="344.4" r="1.7"/><circle cx="317.4" cy="344.7" r="1.7"/><circle cx="334.1" cy="344.4" r="1.7"/><circle cx="336.7" cy="343.6" r="1.7"/><circle cx="303.4" cy="345" r="1.7"/><circle cx="302.7" cy="347.4" r="1.7"/><circle cx="309.4" cy="348.3" r="1.7"/><circle cx="294" cy="349.4" r="1.7"/><circle cx="297.4" cy="350.7" r="1.7"/><circle cx="315.4" cy="351.4" r="1.7"/><circle cx="316" cy="352.7" r="1.7"/><circle cx="300" cy="352.7" r="1.7"/><circle cx="302" cy="354" r="1.7"/><circle cx="314.7" cy="356" r="1.7"/><circle cx="342.8" cy="353.4" r="1.7"/><circle cx="342.8" cy="355.4" r="1.7"/><circle cx="292" cy="356" r="1.7"/><circle cx="296" cy="356" r="1.7"/><circle cx="306.7" cy="356.7" r="1.7"/><circle cx="322" cy="358" r="1.7"/><circle cx="326.1" cy="360" r="1.7"/><circle cx="318" cy="358.7" r="1.7"/><circle cx="333.4" cy="364.7" r="1.7"/><circle cx="340.7" cy="364.7" r="1.7"/><circle cx="357.3" cy="336.8" r="1.7"/><circle cx="412.6" cy="340.3" r="1.7"/><circle cx="342.8" cy="353.3" r="1.7"/><circle cx="343.3" cy="355.5" r="1.7"/><circle cx="346.6" cy="352.7" r="1.7"/><circle cx="365.2" cy="357.1" r="1.7"/><circle cx="391.5" cy="352.5" r="1.7"/><circle cx="448" cy="356.3" r="1.7"/><circle cx="377.9" cy="360.1" r="1.7"/><circle cx="340.8" cy="364.5" r="1.7"/><circle cx="345" cy="362.6" r="1.7"/><circle cx="346.3" cy="364.9" r="1.7"/><circle cx="351.2" cy="361.2" r="1.7"/><circle cx="352.4" cy="363.7" r="1.7"/><circle cx="352.4" cy="366.2" r="1.7"/><circle cx="357.3" cy="362.1" r="1.7"/><circle cx="361.4" cy="363.4" r="1.7"/><circle cx="366.4" cy="369" r="1.7"/><circle cx="382.9" cy="367.2" r="1.7"/><circle cx="396.1" cy="366.4" r="1.7"/><circle cx="409.6" cy="366.4" r="1.7"/><circle cx="294.1" cy="349.7" r="1.7"/><circle cx="297.6" cy="350.9" r="1.7"/><circle cx="299.5" cy="352.4" r="1.7"/><circle cx="301.9" cy="353.6" r="1.7"/><circle cx="303" cy="354.8" r="1.7"/><circle cx="303" cy="344.7" r="1.7"/><circle cx="302.6" cy="347.4" r="1.7"/><circle cx="309.2" cy="348.2" r="1.7"/><circle cx="317.8" cy="344.3" r="1.7"/><circle cx="326.3" cy="343" r="1.7"/><circle cx="315.1" cy="350.9" r="1.7"/><circle cx="315.8" cy="352.4" r="1.7"/><circle cx="315.1" cy="355.9" r="1.7"/><circle cx="318.2" cy="357.9" r="1.7"/><circle cx="322" cy="358.2" r="1.7"/><circle cx="325.1" cy="360.2" r="1.7"/><circle cx="306.5" cy="356.3" r="1.7"/><circle cx="309.6" cy="358.6" r="1.7"/><circle cx="312" cy="359.8" r="1.7"/><circle cx="332.1" cy="364.8" r="1.7"/><circle cx="291" cy="356.7" r="1.7"/><circle cx="291.2" cy="357" r="1.7"/><circle cx="293.9" cy="356.5" r="1.7"/><circle cx="295.7" cy="358.3" r="1.7"/><circle cx="297.5" cy="356.5" r="1.7"/><circle cx="302" cy="357.4" r="1.7"/><circle cx="305.6" cy="356.1" r="1.7"/><circle cx="308.3" cy="357.4" r="1.7"/><circle cx="311.8" cy="359.2" r="1.7"/><circle cx="318.1" cy="357.9" r="1.7"/><circle cx="322.6" cy="358.3" r="1.7"/><circle cx="325.8" cy="360.1" r="1.7"/></g><g fill="#0000ff"><circle cx="297.3" cy="360.0" r="1.7"/><circle cx="293.2" cy="361.8" r="1.7"/><circle cx="295.1" cy="361.2" r="1.7"/><circle cx="297.9" cy="362.3" r="1.7"/><circle cx="298.7" cy="361.4" r="1.7"/><circle cx="301.9" cy="362.0" r="1.7"/><circle cx="304.4" cy="361.6" r="1.7"/><circle cx="306.4" cy="362.0" r="1.7"/><circle cx="307.8" cy="361.8" r="1.7"/><circle cx="310.9" cy="362.3" r="1.7"/><circle cx="312.5" cy="361.8" r="1.7"/><circle cx="321.6" cy="362.0" r="1.7"/><circle cx="325.7" cy="362.1" r="1.7"/><circle cx="290.5" cy="363.7" r="1.7"/><circle cx="292.7" cy="363.1" r="1.7"/><circle cx="294.2" cy="364.2" r="1.7"/><circle cx="297.9" cy="364.0" r="1.7"/><circle cx="299.1" cy="363.4" r="1.7"/><circle cx="301.5" cy="364.7" r="1.7"/><circle cx="304.1" cy="364.0" r="1.7"/><circle cx="306.5" cy="363.5" r="1.7"/><circle cx="308.1" cy="364.6" r="1.7"/><circle cx="310.4" cy="363.8" r="1.7"/><circle cx="312.1" cy="364.0" r="1.7"/><circle cx="315.4" cy="363.1" r="1.7"/><circle cx="317.4" cy="364.4" r="1.7"/><circle cx="319.7" cy="364.3" r="1.7"/><circle cx="321.8" cy="363.9" r="1.7"/><circle cx="323.6" cy="363.8" r="1.7"/><circle cx="325.0" cy="364.5" r="1.7"/><circle cx="290.6" cy="365.6" r="1.7"/><circle cx="292.7" cy="366.1" r="1.7"/><circle cx="294.7" cy="365.9" r="1.7"/><circle cx="297.2" cy="366.3" r="1.7"/><circle cx="299.5" cy="366.0" r="1.7"/><circle cx="300.7" cy="365.7" r="1.7"/><circle cx="303.2" cy="366.2" r="1.7"/><circle cx="306.5" cy="366.6" r="1.7"/><circle cx="308.6" cy="366.6" r="1.7"/><circle cx="309.9" cy="366.6" r="1.7"/><circle cx="312.8" cy="365.4" r="1.7"/><circle cx="313.9" cy="365.3" r="1.7"/><circle cx="317.3" cy="365.7" r="1.7"/><circle cx="318.5" cy="366.3" r="1.7"/><circle cx="321.1" cy="365.4" r="1.7"/><circle cx="323.0" cy="366.1" r="1.7"/><circle cx="290.7" cy="359.8" r="1.7"/><circle cx="293.1" cy="359.6" r="1.7"/><circle cx="295.5" cy="359.4" r="1.7"/><circle cx="298.6" cy="359.3" r="1.7"/><circle cx="300.9" cy="360.1" r="1.7"/><circle cx="304.0" cy="359.5" r="1.7"/><circle cx="307.1" cy="360.7" r="1.7"/><circle cx="309.5" cy="360.5" r="1.7"/><circle cx="312.3" cy="361.5" r="1.7"/><circle cx="315.0" cy="361.7" r="1.7"/><circle cx="318.2" cy="361.8" r="1.7"/><circle cx="320.0" cy="362.3" r="1.7"/><circle cx="322.8" cy="361.9" r="1.7"/><circle cx="324.5" cy="362.1" r="1.7"/><circle cx="326.9" cy="362.1" r="1.7"/><circle cx="327.3" cy="365.1" r="1.7"/><circle cx="324.6" cy="365.5" r="1.7"/><circle cx="323.0" cy="366.8" r="1.7"/><circle cx="319.8" cy="367.6" r="1.7"/><circle cx="317.3" cy="367.7" r="1.7"/><circle cx="315.2" cy="367.2" r="1.7"/><circle cx="312.3" cy="366.8" r="1.7"/><circle cx="310.4" cy="366.9" r="1.7"/><circle cx="307.8" cy="367.8" r="1.7"/><circle cx="305.1" cy="367.1" r="1.7"/><circle cx="303.0" cy="367.9" r="1.7"/><circle cx="300.4" cy="367.4" r="1.7"/><circle cx="297.6" cy="367.2" r="1.7"/><circle cx="295.0" cy="367.6" r="1.7"/><circle cx="292.8" cy="367.1" r="1.7"/><circle cx="290.1" cy="367.6" r="1.7"/><circle cx="290.3" cy="364.9" r="1.7"/><circle cx="290.3" cy="362.7" r="1.7"/></g><line x1="290" y1="362.2" x2="452.9" y2="360.1" stroke="#ee1c24" stroke-width="1" stroke-opacity="0.9"/><rect x="280.0" y="233.7" width="172.90" height="140.70" fill="none" stroke="#5a5a5a" stroke-width="1"/><text x="286.40" y="393.0" font-family="Liberation Sans" font-size="8.9" text-anchor="middle">0</text><text x="318.38" y="393.0" font-family="Liberation Sans" font-size="8.9" text-anchor="middle">2</text><text x="350.36" y="393.0" font-family="Liberation Sans" font-size="8.9" text-anchor="middle">4</text><text x="382.34" y="393.0" font-family="Liberation Sans" font-size="8.9" text-anchor="middle">6</text><text x="414.32" y="393.0" font-family="Liberation Sans" font-size="8.9" text-anchor="middle">8</text><text x="446.30" y="393.0" font-family="Liberation Sans" font-size="8.9" text-anchor="middle">10</text><text transform="translate(267.4,249.4) rotate(-90)" font-family="Liberation Sans" font-size="8.9" text-anchor="middle">1.2</text><text transform="translate(267.4,269.9) rotate(-90)" font-family="Liberation Sans" font-size="8.9" text-anchor="middle">1.0</text><text transform="translate(267.4,290.2) rotate(-90)" font-family="Liberation Sans" font-size="8.9" text-anchor="middle">0.8</text><text transform="translate(267.4,311.0) rotate(-90)" font-family="Liberation Sans" font-size="8.9" text-anchor="middle">0.6</text><text transform="translate(267.4,331.5) rotate(-90)" font-family="Liberation Sans" font-size="8.9" text-anchor="middle">0.4</text><text transform="translate(267.4,352.0) rotate(-90)" font-family="Liberation Sans" font-size="8.9" text-anchor="middle">0.2</text><text transform="translate(267.4,372.4) rotate(-90)" font-family="Liberation Sans" font-size="8.9" text-anchor="middle">0.0</text><path d="M286.40,374.4v5.4 M318.38,374.4v5.4 M350.36,374.4v5.4 M382.34,374.4v5.4 M414.32,374.4v5.4 M446.30,374.4v5.4 M280.0,249.4h-5.4 M280.0,269.9h-5.4 M280.0,290.2h-5.4 M280.0,311.0h-5.4 M280.0,331.5h-5.4 M280.0,352.0h-5.4 M280.0,372.4h-5.4" stroke="#5a5a5a" stroke-width="1" fill="none"/><text x="366.9" y="225.3" font-family="Liberation Sans" font-size="10.35" font-weight="bold" text-anchor="middle">Cor=0.052 (p=0.337)</text><text x="366.8" y="410.6" font-family="Liberation Sans" font-size="10.35" text-anchor="middle">Risk score</text><text transform="translate(245.3,304.1) rotate(-90)" font-family="Liberation Sans" font-size="10.6" text-anchor="middle">B_cell</text></g>
<g><g fill="#0000ff"><circle cx="550.7" cy="236.3" r="1.7"/><circle cx="527.4" cy="259.6" r="1.7"/><circle cx="580.6" cy="266.1" r="1.7"/><circle cx="545.8" cy="285.8" r="1.7"/><circle cx="547.6" cy="295.4" r="1.7"/><circle cx="527.2" cy="302.8" r="1.7"/><circle cx="533.9" cy="313.3" r="1.7"/><circle cx="531.1" cy="318" r="1.7"/><circle cx="533" cy="317" r="1.7"/><circle cx="547.9" cy="316.5" r="1.7"/><circle cx="545.5" cy="319.8" r="1.7"/><circle cx="525.3" cy="322.1" r="1.7"/><circle cx="565.4" cy="322.1" r="1.7"/><circle cx="526.8" cy="330.1" r="1.7"/><circle cx="532.8" cy="330.8" r="1.7"/><circle cx="536.1" cy="329" r="1.7"/><circle cx="521.8" cy="333.3" r="1.7"/><circle cx="529.2" cy="333.6" r="1.7"/><circle cx="530.5" cy="334.2" r="1.7"/><circle cx="549.2" cy="330.5" r="1.7"/><circle cx="557.2" cy="333.8" r="1.7"/><circle cx="557.6" cy="337.6" r="1.7"/><circle cx="573.8" cy="335.1" r="1.7"/><circle cx="577.2" cy="337" r="1.7"/><circle cx="567.5" cy="338.3" r="1.7"/><circle cx="546.4" cy="337" r="1.7"/><circle cx="543.6" cy="340.2" r="1.7"/><circle cx="551.1" cy="340.7" r="1.7"/><circle cx="563.6" cy="344.1" r="1.7"/><circle cx="528.7" cy="366.3" r="1.7"/><circle cx="576.6" cy="360" r="1.7"/><circle cx="571.6" cy="356.6" r="1.7"/><circle cx="576.3" cy="348.2" r="1.7"/><circle cx="574.4" cy="350.1" r="1.7"/><circle cx="564.1" cy="353.8" r="1.7"/><circle cx="562.3" cy="356.6" r="1.7"/><circle cx="528.9" cy="366.4" r="1.7"/><circle cx="557" cy="333.7" r="1.7"/><circle cx="557.5" cy="337.4" r="1.7"/><circle cx="546" cy="337.2" r="1.7"/><circle cx="543.2" cy="340" r="1.7"/><circle cx="551.5" cy="341.1" r="1.7"/><circle cx="563" cy="344.3" r="1.7"/><circle cx="548.7" cy="330.9" r="1.7"/><circle cx="521.5" cy="333.2" r="1.7"/><circle cx="526.1" cy="330.9" r="1.7"/><circle cx="529.8" cy="333.7" r="1.7"/><circle cx="533.1" cy="331.4" r="1.7"/><circle cx="538.6" cy="342" r="1.7"/><circle cx="540.9" cy="343.8" r="1.7"/><circle cx="545.5" cy="347.1" r="1.7"/><circle cx="548.3" cy="345.7" r="1.7"/><circle cx="551.5" cy="347.1" r="1.7"/><circle cx="556.6" cy="350.8" r="1.7"/><circle cx="559.4" cy="350.8" r="1.7"/><circle cx="564.4" cy="354" r="1.7"/><circle cx="562.1" cy="356.8" r="1.7"/><circle cx="554.7" cy="357.7" r="1.7"/><circle cx="552.4" cy="359.1" r="1.7"/><circle cx="545.5" cy="359.5" r="1.7"/><circle cx="540.9" cy="360.4" r="1.7"/><circle cx="534.5" cy="361.8" r="1.7"/><circle cx="597.2" cy="318.3" r="1.7"/><circle cx="643.3" cy="315.4" r="1.7"/><circle cx="622.2" cy="325" r="1.7"/><circle cx="678.9" cy="325.9" r="1.7"/><circle cx="588.4" cy="333.2" r="1.7"/><circle cx="577.3" cy="337" r="1.7"/><circle cx="640.5" cy="337.2" r="1.7"/><circle cx="576.4" cy="347.5" r="1.7"/><circle cx="582.3" cy="347.7" r="1.7"/><circle cx="608.7" cy="347.2" r="1.7"/><circle cx="577.1" cy="351.9" r="1.7"/><circle cx="583.4" cy="352.4" r="1.7"/><circle cx="588.1" cy="352.4" r="1.7"/><circle cx="592.5" cy="351.5" r="1.7"/><circle cx="596.3" cy="353.5" r="1.7"/><circle cx="613.4" cy="354.1" r="1.7"/><circle cx="627.1" cy="353.8" r="1.7"/><circle cx="583.2" cy="355.9" r="1.7"/><circle cx="592.5" cy="357.3" r="1.7"/><circle cx="576.7" cy="359.9" r="1.7"/><circle cx="522.1" cy="339.2" r="1.7"/><circle cx="525.4" cy="338.7" r="1.7"/><circle cx="528.7" cy="339.2" r="1.7"/><circle cx="531.4" cy="338.7" r="1.7"/><circle cx="521.6" cy="342.5" r="1.7"/><circle cx="524.8" cy="341.4" r="1.7"/><circle cx="527" cy="340.8" r="1.7"/><circle cx="530.3" cy="342.5" r="1.7"/><circle cx="532.5" cy="340.3" r="1.7"/><circle cx="523.2" cy="345.2" r="1.7"/><circle cx="527" cy="344.7" r="1.7"/><circle cx="529.8" cy="345.2" r="1.7"/><circle cx="532.5" cy="344.1" r="1.7"/><circle cx="535.2" cy="343" r="1.7"/><circle cx="536.9" cy="341.4" r="1.7"/><circle cx="538.5" cy="341.4" r="1.7"/><circle cx="539.6" cy="343" r="1.7"/><circle cx="536.9" cy="345.8" r="1.7"/><circle cx="540.1" cy="345.2" r="1.7"/><circle cx="544.5" cy="352.3" r="1.7"/><circle cx="546.7" cy="354" r="1.7"/><circle cx="547.8" cy="356.7" r="1.7"/><circle cx="551.1" cy="354.5" r="1.7"/><circle cx="552.7" cy="357.8" r="1.7"/><circle cx="554.3" cy="356.1" r="1.7"/><circle cx="556" cy="357.8" r="1.7"/><circle cx="550" cy="351.2" r="1.7"/><circle cx="553.3" cy="351.2" r="1.7"/><circle cx="545.6" cy="358.9" r="1.7"/><circle cx="541.2" cy="360" r="1.7"/><circle cx="555.4" cy="350.1" r="1.7"/><circle cx="558.7" cy="350.7" r="1.7"/><circle cx="559.8" cy="352.9" r="1.7"/><circle cx="558.2" cy="351.2" r="1.7"/><circle cx="521.5" cy="346" r="1.7"/><circle cx="525" cy="346.5" r="1.7"/><circle cx="528" cy="347" r="1.7"/><circle cx="533" cy="346.5" r="1.7"/></g><g fill="#0000ff"><circle cx="528.1" cy="348.0" r="1.7"/><circle cx="536.6" cy="347.9" r="1.7"/><circle cx="538.5" cy="348.2" r="1.7"/><circle cx="522.0" cy="349.5" r="1.7"/><circle cx="523.0" cy="349.6" r="1.7"/><circle cx="524.9" cy="349.3" r="1.7"/><circle cx="527.8" cy="349.7" r="1.7"/><circle cx="529.7" cy="349.3" r="1.7"/><circle cx="531.9" cy="349.6" r="1.7"/><circle cx="534.2" cy="348.9" r="1.7"/><circle cx="537.2" cy="349.8" r="1.7"/><circle cx="539.1" cy="349.2" r="1.7"/><circle cx="541.9" cy="350.3" r="1.7"/><circle cx="542.7" cy="349.4" r="1.7"/><circle cx="521.7" cy="352.2" r="1.7"/><circle cx="524.2" cy="351.8" r="1.7"/><circle cx="526.2" cy="352.2" r="1.7"/><circle cx="527.6" cy="352.0" r="1.7"/><circle cx="530.7" cy="352.5" r="1.7"/><circle cx="532.3" cy="352.0" r="1.7"/><circle cx="533.8" cy="351.5" r="1.7"/><circle cx="537.2" cy="351.8" r="1.7"/><circle cx="538.4" cy="352.0" r="1.7"/><circle cx="541.4" cy="352.2" r="1.7"/><circle cx="543.1" cy="351.8" r="1.7"/><circle cx="521.3" cy="354.5" r="1.7"/><circle cx="523.5" cy="353.9" r="1.7"/><circle cx="525.7" cy="353.3" r="1.7"/><circle cx="527.2" cy="354.4" r="1.7"/><circle cx="530.9" cy="354.2" r="1.7"/><circle cx="532.1" cy="353.6" r="1.7"/><circle cx="534.5" cy="354.9" r="1.7"/><circle cx="537.1" cy="354.2" r="1.7"/><circle cx="539.5" cy="353.7" r="1.7"/><circle cx="541.1" cy="354.8" r="1.7"/><circle cx="543.4" cy="354.0" r="1.7"/><circle cx="524.2" cy="355.5" r="1.7"/><circle cx="526.2" cy="356.8" r="1.7"/><circle cx="528.5" cy="356.7" r="1.7"/><circle cx="530.6" cy="356.3" r="1.7"/><circle cx="532.4" cy="356.2" r="1.7"/><circle cx="533.8" cy="356.9" r="1.7"/><circle cx="536.8" cy="355.8" r="1.7"/><circle cx="538.9" cy="356.3" r="1.7"/><circle cx="540.9" cy="356.1" r="1.7"/><circle cx="543.4" cy="356.5" r="1.7"/><circle cx="522.7" cy="358.1" r="1.7"/><circle cx="525.2" cy="358.6" r="1.7"/><circle cx="528.5" cy="359.0" r="1.7"/><circle cx="530.6" cy="359.0" r="1.7"/><circle cx="531.9" cy="359.0" r="1.7"/><circle cx="534.8" cy="357.8" r="1.7"/><circle cx="535.9" cy="357.7" r="1.7"/><circle cx="539.3" cy="358.1" r="1.7"/><circle cx="540.5" cy="358.7" r="1.7"/><circle cx="521.0" cy="348.0" r="1.7"/><circle cx="523.9" cy="347.6" r="1.7"/><circle cx="527.3" cy="347.6" r="1.7"/><circle cx="529.8" cy="347.5" r="1.7"/><circle cx="532.0" cy="347.5" r="1.7"/><circle cx="534.9" cy="347.4" r="1.7"/><circle cx="537.1" cy="348.3" r="1.7"/><circle cx="540.0" cy="347.7" r="1.7"/><circle cx="544.1" cy="349.3" r="1.7"/><circle cx="544.5" cy="352.5" r="1.7"/><circle cx="543.6" cy="357.2" r="1.7"/><circle cx="541.7" cy="358.5" r="1.7"/><circle cx="540.2" cy="359.5" r="1.7"/><circle cx="537.2" cy="360.2" r="1.7"/><circle cx="535.3" cy="360.0" r="1.7"/><circle cx="532.2" cy="360.4" r="1.7"/><circle cx="529.9" cy="360.6" r="1.7"/><circle cx="527.2" cy="360.6" r="1.7"/><circle cx="524.2" cy="360.3" r="1.7"/><circle cx="522.5" cy="360.9" r="1.7"/><circle cx="521.5" cy="358.1" r="1.7"/><circle cx="521.1" cy="355.4" r="1.7"/><circle cx="521.5" cy="352.6" r="1.7"/><circle cx="521.1" cy="349.8" r="1.7"/></g><line x1="521.2" y1="349.1" x2="683.4" y2="347.2" stroke="#ee1c24" stroke-width="1" stroke-opacity="0.9"/><rect x="510.9" y="231.5" width="172.50" height="140.30" fill="none" stroke="#5a5a5a" stroke-width="1"/><text x="517.20" y="391.0" font-family="Liberation Sans" font-size="8.9" text-anchor="middle">0</text><text x="549.26" y="391.0" font-family="Liberation Sans" font-size="8.9" text-anchor="middle">2</text><text x="581.32" y="391.0" font-family="Liberation Sans" font-size="8.9" text-anchor="middle">4</text><text x="613.38" y="391.0" font-family="Liberation Sans" font-size="8.9" text-anchor="middle">6</text><text x="645.44" y="391.0" font-family="Liberation Sans" font-size="8.9" text-anchor="middle">8</text><text x="677.50" y="391.0" font-family="Liberation Sans" font-size="8.9" text-anchor="middle">10</text><text transform="translate(498.3,252.8) rotate(-90)" font-family="Liberation Sans" font-size="8.9" text-anchor="middle">1.0</text><text transform="translate(498.3,276.6) rotate(-90)" font-family="Liberation Sans" font-size="8.9" text-anchor="middle">0.8</text><text transform="translate(498.3,300.4) rotate(-90)" font-family="Liberation Sans" font-size="8.9" text-anchor="middle">0.6</text><text transform="translate(498.3,324.2) rotate(-90)" font-family="Liberation Sans" font-size="8.9" text-anchor="middle">0.4</text><text transform="translate(498.3,348.1) rotate(-90)" font-family="Liberation Sans" font-size="8.9" text-anchor="middle">0.2</text><path d="M517.20,371.8v5.4 M549.26,371.8v5.4 M581.32,371.8v5.4 M613.38,371.8v5.4 M645.44,371.8v5.4 M677.50,371.8v5.4 M510.9,252.8h-5.4 M510.9,276.6h-5.4 M510.9,300.4h-5.4 M510.9,324.2h-5.4 M510.9,348.1h-5.4" stroke="#5a5a5a" stroke-width="1" fill="none"/><text x="597.5" y="222.2" font-family="Liberation Sans" font-size="10.35" font-weight="bold" text-anchor="middle">Cor=0.038 (p=0.482)</text><text x="597.6" y="409.3" font-family="Liberation Sans" font-size="10.35" text-anchor="middle">Risk score</text><text transform="translate(477.8,301.6) rotate(-90)" font-family="Liberation Sans" font-size="10.6" text-anchor="middle">CD8_Tcell</text></g>
</svg></body></html>
